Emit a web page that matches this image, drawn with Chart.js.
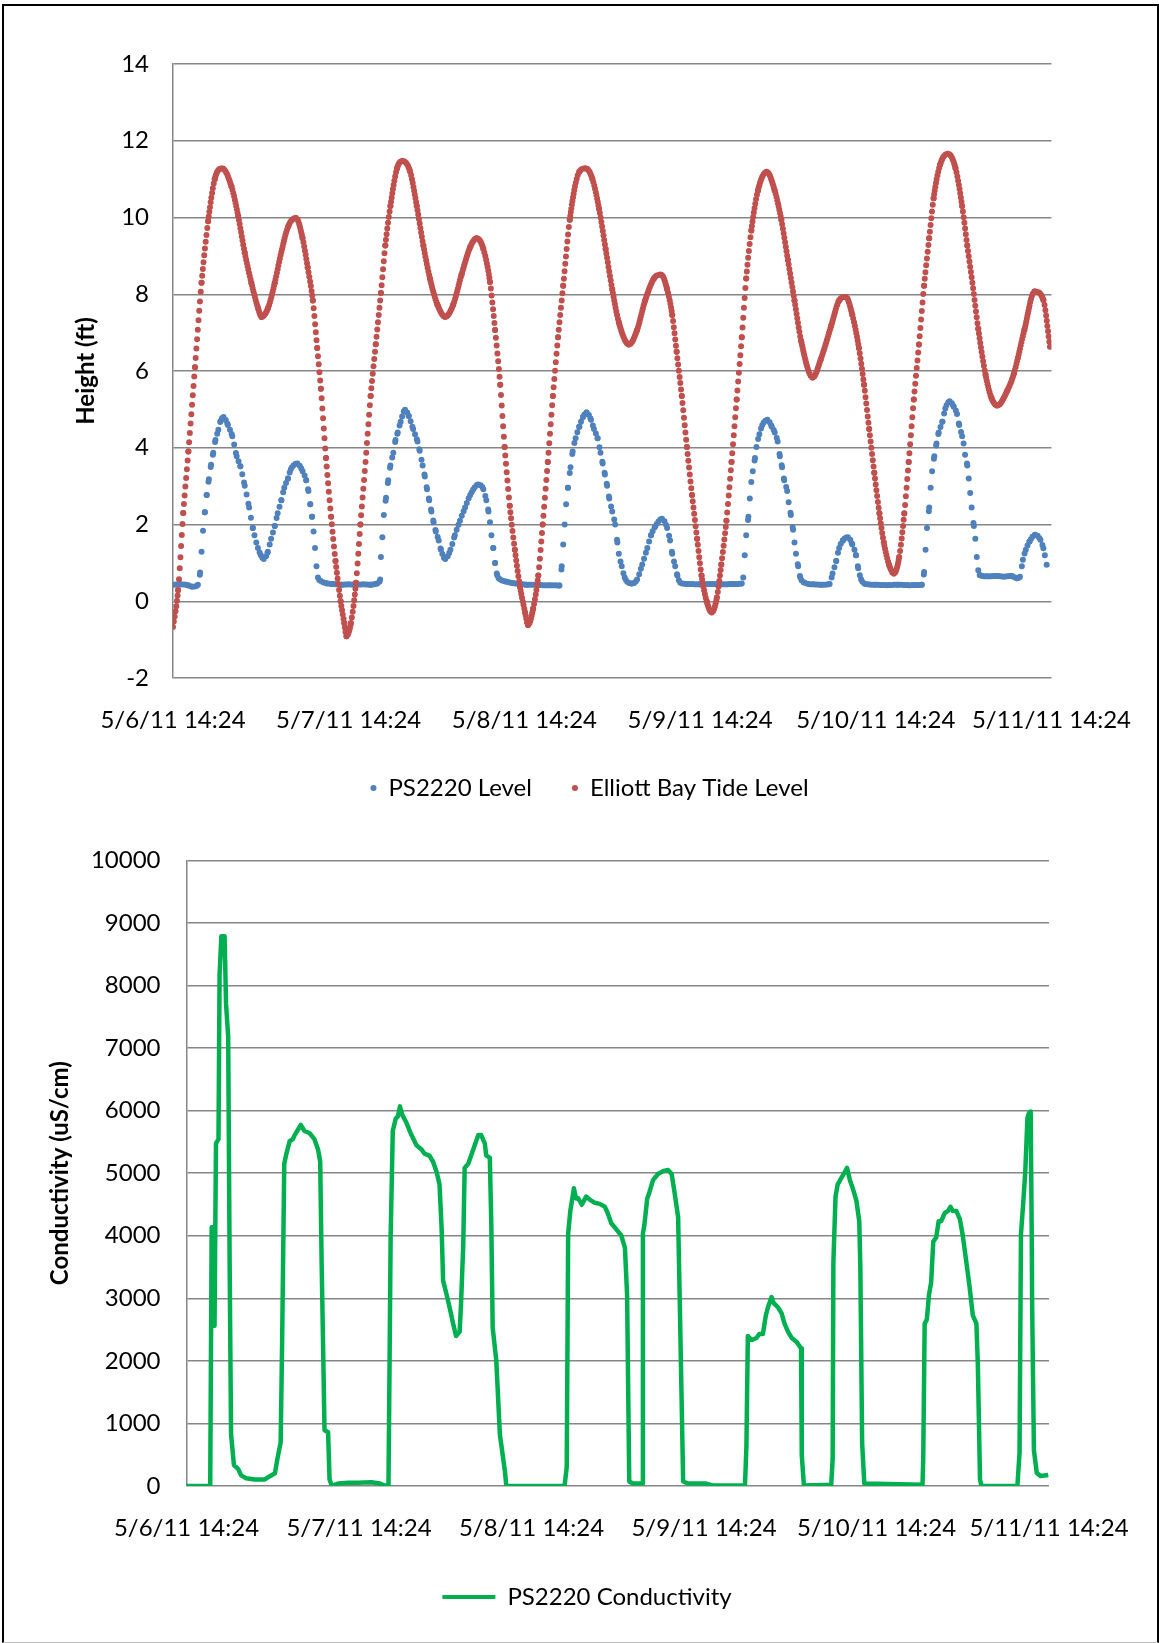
<!DOCTYPE html>
<html>
<head>
<meta charset="utf-8">
<script src="https://cdn.jsdelivr.net/npm/chart.js@4.4.1/dist/chart.umd.min.js"></script>
<style>
  body { margin: 0; background: #fff; }
  #page { position: relative; width: 1159px; height: 1643px; overflow: hidden; }
  #frame { position: absolute; left: 2px; top: 4px; right: 0; bottom: 0; border: 2px solid #000; border-bottom: 1px solid #bdbdbd; }
  #levelBox { position: absolute; left: 0; top: 0; }
  #condBox { position: absolute; left: 0; top: 820px; }
</style>
</head>
<body>
<div id="page">
  <div id="frame"></div>
  <div id="levelBox"><canvas id="levelChart" width="1159" height="820"></canvas></div>
  <div id="condBox"><canvas id="condChart" width="1159" height="823"></canvas></div>
</div>
<script>
// --- Data (x = hours after 5/6/11 14:24) ---
const tickLabels = ["5/6/11 14:24", "5/7/11 14:24", "5/8/11 14:24", "5/9/11 14:24", "5/10/11 14:24", "5/11/11 14:24"];

const ps2220Level = [
  [0,0.43],[1,0.44],[2,0.42],[2.7,0.38],[3.4,0.43],[3.7,0.75],[3.9,1.29],[4.1,1.84],[4.35,2.32],[4.6,2.77],
  [4.9,3.18],[5.2,3.56],[5.5,3.87],[5.8,4.2],[6.2,4.47],[6.5,4.7],[6.9,4.8],[7.5,4.59],[8.1,4.3],[8.7,3.78],
  [9.2,3.52],[9.8,3.01],[10.4,2.44],[10.9,1.91],[11.6,1.39],[12.0,1.2],[12.4,1.1],[12.95,1.29],[13.4,1.63],[13.9,1.96],
  [14.3,2.29],[14.8,2.63],[15.2,2.96],[15.7,3.2],[16.1,3.44],[17.0,3.59],[17.7,3.39],[18.2,3.15],[18.5,2.87],[18.75,2.53],
  [19.0,2.2],[19.2,1.82],[19.4,1.39],[19.6,0.91],[19.8,0.62],[20.2,0.53],[21.1,0.46],[22,0.45],[23,0.43],[24,0.44],
  [25,0.43],[26,0.44],[27,0.43],[27.9,0.46],[28.3,0.57],[28.4,1.15],[28.6,1.67],[28.8,2.25],[29.1,2.7],[29.4,3.15],
  [29.7,3.54],[30.1,3.87],[30.4,4.2],[30.7,4.4],[31.1,4.68],[31.7,4.99],[32.2,4.83],[32.8,4.49],[33.4,4.16],[33.7,3.92],
  [34.1,3.54],[34.4,3.25],[34.7,2.92],[35.0,2.63],[35.3,2.34],[35.6,2.06],[35.9,1.82],[36.3,1.58],[36.6,1.34],[37.2,1.1],
  [37.9,1.34],[38.5,1.72],[39.2,2.1],[39.9,2.44],[40.6,2.77],[41.7,3.04],[42.4,2.92],[42.8,2.63],[43.1,2.34],[43.3,2.06],
  [43.5,1.72],[43.75,1.39],[44.0,1.0],[44.3,0.67],[44.7,0.57],[45.6,0.51],[46.5,0.47],[47.5,0.45],[48.3,0.43],[49.5,0.43],
  [50.5,0.42],[51.5,0.42],[52.8,0.41],[53.1,0.91],[53.3,1.48],[53.5,2.0],[53.7,2.53],[53.95,2.96],[54.3,3.49],[54.6,3.9],
  [55.0,4.25],[55.5,4.55],[56.0,4.8],[56.5,4.92],[57.1,4.73],[57.5,4.49],[58.0,4.25],[58.4,3.87],[58.7,3.59],[59.0,3.3],
  [59.3,3.01],[59.6,2.68],[60.0,2.34],[60.4,2.0],[60.7,1.53],[60.9,1.24],[61.3,0.91],[61.7,0.62],[62.7,0.46],[63.4,0.57],
  [64.1,0.96],[64.8,1.39],[65.3,1.72],[65.9,1.96],[66.8,2.15],[67.5,1.91],[67.9,1.58],[68.2,1.24],[68.6,0.91],[68.9,0.67],
  [69.3,0.48],[70.5,0.45],[72,0.44],[73.5,0.45],[75,0.44],[76.5,0.45],[77.7,0.46],[77.9,0.62],[78.1,1.2],[78.3,1.72],
  [78.6,2.2],[78.8,2.68],[79.0,3.11],[79.2,3.39],[79.5,3.73],[79.7,4.02],[80.1,4.35],[80.5,4.59],[81.2,4.73],[81.8,4.55],
  [82.2,4.4],[82.6,4.16],[82.9,3.78],[83.2,3.49],[83.5,3.15],[83.9,2.87],[84.1,2.58],[84.4,2.25],[84.7,1.86],[84.9,1.53],
  [85.1,1.24],[85.4,0.91],[85.7,0.62],[86.3,0.48],[87.5,0.44],[88.6,0.43],[89.7,0.45],[90.1,0.72],[90.6,1.05],[91.0,1.39],
  [91.5,1.58],[92.2,1.67],[92.8,1.48],[93.3,1.2],[93.6,0.86],[94.0,0.57],[94.6,0.45],[96,0.43],[97.5,0.42],[99,0.43],
  [100.5,0.42],[102.3,0.43],[102.6,0.76],[102.8,1.34],[103.0,1.91],[103.3,2.44],[103.5,2.96],[103.7,3.39],[104.0,3.78],[104.3,4.11],
  [104.6,4.4],[105.1,4.68],[105.5,5.02],[106.1,5.21],[106.65,5.07],[107.1,4.88],[107.4,4.59],[107.8,4.3],[108.0,4.11],[108.2,3.82],
  [108.5,3.54],[108.7,3.2],[108.9,2.82],[109.1,2.44],[109.4,1.96],[109.6,1.63],[109.8,1.15],[110.0,0.81],[110.3,0.67],[111.2,0.65],
  [112.5,0.66],[113.5,0.64],[114.5,0.66],[115.3,0.6],[115.7,0.64],[116.1,1.08],[116.5,1.34],[117.0,1.56],[117.8,1.73],[118.5,1.6],
  [118.9,1.38],[119.1,1.2],[119.5,0.8]
];

const tideLevel = [
  [0,-0.67],[0.7,0.29],[1.4,2.3],[2.1,3.9],[3.0,6.1],[3.9,8.3],[4.8,9.9],[5.7,11.0],[6.7,11.28],[8.0,10.8],
  [8.9,10.04],[9.8,9.08],[10.7,8.3],[11.6,7.65],[12.1,7.41],[13.0,7.65],[13.9,8.3],[14.8,9.1],[15.7,9.75],[16.8,9.99],
  [17.7,9.46],[18.4,8.7],[19.1,7.84],[19.7,6.6],[20.2,5.54],[20.9,3.73],[21.6,2.2],[22.2,1.05],[22.9,0],[23.4,-0.57],
  [23.7,-0.91],[24.3,-0.57],[25.0,0.48],[25.6,2.0],[26.3,3.63],[27.0,5.35],[27.7,6.7],[28.4,8.03],[29.0,9.27],[29.7,10.3],
  [30.6,11.28],[31.4,11.47],[32.4,11.19],[33.3,10.3],[34.2,9.27],[35.1,8.41],[36.1,7.74],[37.2,7.41],[38.3,7.74],[39.4,8.5],
  [40.6,9.23],[41.5,9.46],[42.4,9.18],[43.3,8.32],[44.0,7.07],[44.7,5.64],[45.3,4.02],[46.0,2.49],[46.7,1.34],[47.4,0.38],
  [48.1,-0.29],[48.5,-0.62],[49.2,-0.19],[49.9,0.67],[50.5,2.0],[51.2,3.63],[51.9,5.35],[52.6,6.88],[53.3,8.22],[54.2,9.94],
  [55.5,11.19],[56.4,11.28],[57.3,11.0],[58.2,10.23],[59.1,9.18],[60.0,8.13],[60.9,7.27],[62.3,6.69],[63.4,7.07],[64.5,7.84],
  [65.7,8.41],[66.7,8.51],[67.5,8.13],[68.2,7.46],[68.8,6.5],[69.5,5.35],[70.2,4.02],[70.9,2.77],[71.6,1.63],[72.2,0.67],
  [72.9,0],[73.6,-0.29],[74.3,0.1],[74.9,0.96],[75.6,2.1],[76.3,3.63],[77.0,5.26],[77.7,6.88],[78.3,8.41],[79.0,9.66],
  [79.9,10.7],[81.1,11.19],[82.2,10.7],[83.1,9.94],[84.0,8.89],[84.9,7.84],[85.8,6.79],[87.4,5.83],[88.5,6.31],[89.9,7.17],
  [91.0,7.84],[91.9,7.93],[92.8,7.46],[93.7,6.6],[94.4,5.64],[95.1,4.49],[95.8,3.35],[96.5,2.29],[97.1,1.53],[97.8,0.96],
  [98.5,0.72],[99.2,1.15],[99.9,2.29],[100.5,3.63],[101.2,5.26],[101.9,6.69],[102.6,8.22],[103.3,9.46],[103.9,10.5],[104.8,11.38],
  [105.9,11.66],[106.9,11.28],[107.8,10.3],[108.5,9.27],[109.2,8.3],[110.0,7.1],[111.0,5.9],[111.8,5.3],[112.6,5.1],[114.0,5.5],
  [114.9,5.95],[116.3,7.07],[117.7,8.07],[118.9,7.85],[119.8,6.63]
];

const conductivity = [
  [0,0],[3.3,0],[3.5,4135],[3.7,4135],[3.9,2560],[4.1,5478],[4.45,5544],[4.6,8165],[4.85,8788],[5.3,8788],
  [5.5,7706],[5.8,7182],[6.0,3578],[6.2,826],[6.6,334],[7.2,269],[7.6,170],[8.3,125],[9.5,105],[10.9,105],
  [11.6,157],[12.3,203],[12.7,465],[13.1,695],[13.3,2267],[13.6,5151],[13.9,5314],[14.35,5511],[14.8,5544],[15.05,5609],
  [15.4,5675],[15.9,5773],[16.4,5675],[17.1,5642],[17.8,5544],[18.3,5380],[18.6,5183],[18.8,3578],[19.0,2267],[19.2,891],
  [19.7,858],[19.9,105],[20.2,7],[21.1,39],[22.5,52],[23.9,52],[25.7,59],[26.9,39],[27.6,7],[28.1,0],
  [28.2,1284],[28.4,3971],[28.7,5675],[29.1,5872],[29.4,5904],[29.7,6068],[30.0,5937],[30.6,5806],[31.3,5609],[32.0,5445],
  [32.7,5380],[33.1,5314],[33.8,5282],[34.3,5183],[34.8,5020],[35.2,4823],[35.5,4102],[35.7,3283],[36.2,3054],[36.6,2857],
  [37.1,2595],[37.5,2398],[38.0,2464],[38.2,2923],[38.5,3840],[38.7,5085],[39.2,5151],[39.6,5282],[40.1,5445],[40.6,5609],
  [41.0,5609],[41.5,5478],[41.7,5282],[42.2,5249],[42.4,4233],[42.6,2530],[43.1,2005],[43.6,826],[44.3,236],[44.5,0],
  [52.6,0],[52.9,301],[53.1,4037],[53.4,4397],[53.9,4758],[54.2,4594],[54.5,4600],[55.0,4495],[55.6,4626],[56.3,4561],
  [56.8,4528],[57.5,4509],[58.2,4463],[58.6,4364],[59.1,4200],[59.8,4102],[60.5,4004],[61.0,3807],[61.3,3054],[61.6,72],
  [62.1,39],[63.4,39],[63.5,4037],[63.7,4168],[64.1,4594],[64.4,4692],[64.9,4889],[65.6,4987],[66.3,5033],[67.0,5052],
  [67.5,4987],[67.9,4692],[68.4,4299],[68.6,3119],[69.1,72],[69.8,39],[72.3,39],[73.3,7],[77.7,7],[77.9,629],
  [78.1,2398],[78.6,2333],[79.3,2366],[79.7,2431],[80.2,2431],[80.6,2726],[80.9,2857],[81.4,3021],[81.7,2923],[82.3,2857],
  [82.8,2759],[83.2,2595],[83.7,2464],[84.2,2366],[84.9,2300],[85.5,2202],[85.6,498],[85.9,7],[89.7,20],[89.9,432],
  [90.0,3578],[90.3,4626],[90.6,4823],[91.1,4921],[91.6,5020],[91.9,5085],[92.3,4889],[92.7,4758],[93.2,4561],[93.6,4233],
  [93.75,3512],[94.0,695],[94.3,39],[102.4,20],[102.5,432],[102.7,2595],[103.0,2660],[103.3,3054],[103.6,3250],[103.9,3906],
  [104.3,3971],[104.65,4233],[105.0,4233],[105.5,4364],[105.95,4397],[106.3,4463],[106.6,4397],[107.1,4397],[107.6,4266],[108.0,4004],
  [108.5,3578],[108.95,3185],[109.4,2726],[109.9,2595],[110.1,1940],[110.4,105],[110.6,0],[115.6,0],[115.9,525],[116.1,4025],
  [116.4,4500],[116.7,5031],[117.0,5880],[117.2,5960],[117.45,5986],[117.6,3969],[117.65,2961],[117.9,573],[118.3,207],[118.8,159],
  [119.9,175]
];

// --- Shared styles ---
Chart.defaults.font.family = "Lato, 'Open Sans', sans-serif";
Chart.defaults.font.size = 24;
Chart.defaults.color = "#000";

const gridGray = "#868686";
const blue = "#4F81BD";
const red = "#C0504D";
const green = "#00B050";

const toXY = pts => pts.map(p => ({ x: p[0], y: p[1] }));

// the logger sampled every few minutes, so slopes show as separate dots
function dotted(pts, perHour) {
  return ctx => {
    const dt = pts[ctx.p1DataIndex][0] - pts[ctx.p0DataIndex][0];
    const len = Math.hypot(ctx.p1.x - ctx.p0.x, ctx.p1.y - ctx.p0.y);
    return [0, Math.max(len / (dt * perHour), 0.6)];
  };
}

function timeAxis(height) {
  return {
    type: "linear", min: 0, max: 120,
    grid: { display: false, drawTicks: false },
    border: { display: false },
    ticks: { stepSize: 24, autoSkip: false, maxRotation: 0, padding: 28, callback: v => tickLabels[Math.round(v / 24)] },
    afterFit: s => { s.height = height; }
  };
}

function valueAxis(min, max, step, title, width, titlePad, tickPad) {
  return {
    min, max,
    ticks: { stepSize: step, padding: tickPad, callback: v => String(v) },
    grid: { color: gridGray, lineWidth: 1.5, drawTicks: false },
    border: { display: true, color: gridGray, width: 1.5 },
    title: { display: true, text: title, font: { weight: "bold", size: 24 }, padding: { top: titlePad, bottom: 0 } },
    afterFit: s => { s.width = width; }
  };
}

function spacer(width) {
  return {
    position: "right",
    grid: { display: false }, border: { display: false }, ticks: { display: false },
    afterFit: s => { s.width = width; }
  };
}

// --- Level chart ---
new Chart(document.getElementById("levelChart"), {
  type: "line",
  data: {
    datasets: [
      { label: "PS2220 Level", data: toXY(ps2220Level), order: 1,
        borderColor: blue, backgroundColor: blue, pointBackgroundColor: blue, pointBorderWidth: 0, pointRadius: 0,
        borderWidth: 6, borderCapStyle: "round", cubicInterpolationMode: "monotone",
        segment: { borderDash: dotted(ps2220Level, 4) } },
      { label: "Elliott Bay Tide Level", data: toXY(tideLevel), order: 0,
        borderColor: red, backgroundColor: red, pointBackgroundColor: red, pointBorderWidth: 0, pointRadius: 0,
        borderWidth: 6, borderCapStyle: "round", cubicInterpolationMode: "monotone",
        segment: { borderDash: dotted(tideLevel, 10) } }
    ]
  },
  options: {
    responsive: false, devicePixelRatio: 1, animation: false,
    layout: { padding: { left: 20, top: 64, right: 0, bottom: 10 } },
    plugins: {
      legend: { position: "bottom", labels: { usePointStyle: true, boxWidth: 6, boxHeight: 4.3, padding: 40,
        sort: (a, b) => a.datasetIndex - b.datasetIndex } },
      tooltip: { enabled: false }
    },
    scales: {
      x: timeAxis(58),
      y: valueAxis(-2, 14, 2, "Height (ft)", 153, 52, 24),
      y2: spacer(103)
    }
  }
});

// --- Conductivity chart ---
new Chart(document.getElementById("condChart"), {
  type: "line",
  data: {
    datasets: [
      { label: "PS2220 Conductivity", data: toXY(conductivity),
        borderColor: green, backgroundColor: green, borderWidth: 4.5, pointRadius: 0,
        tension: 0, borderJoinStyle: "round" }
    ]
  },
  options: {
    responsive: false, devicePixelRatio: 1, animation: false,
    layout: { padding: { left: 15, top: 38, right: 0, bottom: 24 } },
    plugins: {
      legend: { position: "bottom", labels: { boxWidth: 53, boxHeight: 4, padding: 10,
        generateLabels: chart => Chart.defaults.plugins.legend.labels.generateLabels(chart).map(l => Object.assign(l, { lineWidth: 0 })) } },
      tooltip: { enabled: false }
    },
    scales: {
      x: timeAxis(89),
      y: valueAxis(0, 10000, 1000, "Conductivity (uS/cm)", 171.5, 31, 26),
      y2: spacer(110)
    }
  }
});
</script>
</body>
</html>
